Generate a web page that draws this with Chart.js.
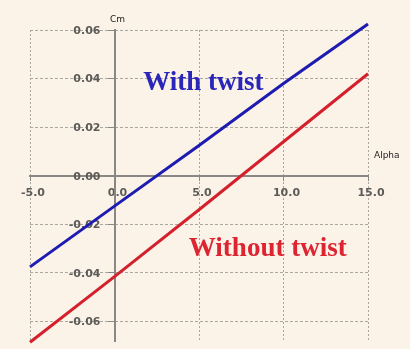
<!DOCTYPE html>
<html>
<head>
<meta charset="utf-8">
<script src="https://cdn.jsdelivr.net/npm/chart.js@4.4.1/dist/chart.umd.min.js"></script>
<style>
  html, body { margin: 0; padding: 0; background: #fbf2e8; }
  #wrap { width: 410px; height: 349px; }
</style>
</head>
<body>
<div id="wrap"><canvas id="c" width="410" height="349"></canvas></div>
<script>
// Pitching moment coefficient vs angle of attack
const alpha = [-5, 0, 5, 10, 15];
const cmWithTwist = [-0.0375, -0.0125, 0.0125, 0.0380, 0.0625];
const cmWithoutTwist = [-0.0685, -0.0415, -0.0140, 0.0140, 0.0420];
const alphaTicks = [-5, 0, 5, 10, 15];
const cmTicks = [-0.06, -0.04, -0.02, 0.00, 0.02, 0.04, 0.06];
const seriesNames = ['With twist', 'Without twist'];
const axisTitles = { x: 'Alpha', y: 'Cm' };

const toPoints = ys => alpha.map((a, i) => ({ x: a, y: ys[i] }));
const tickFont = 'bold 11px "DejaVu Sans"';
const tickColor = '#5c5b58';

// Cm tick labels sit to the left of the vertical axis, under the lines
const cmLabelPlugin = {
  id: 'cmLabels',
  beforeDatasetsDraw(chart) {
    const { ctx, scales: { x, y } } = chart;
    const right = x.getPixelForValue(0) - 14;
    ctx.save();
    ctx.font = tickFont;
    ctx.fillStyle = tickColor;
    ctx.textAlign = 'right';
    ctx.textBaseline = 'middle';
    y.ticks.forEach(t => {
      ctx.fillText(Number(t.value).toFixed(2), right, y.getPixelForValue(t.value) + 1);
    });
    ctx.restore();
  }
};

// Labels written on the plot next to each line, plus the axis names
const textPlugin = {
  id: 'plotText',
  afterDraw(chart) {
    const { ctx, scales: { x, y } } = chart;
    ctx.save();
    ctx.textBaseline = 'alphabetic';
    ctx.textAlign = 'left';
    ctx.font = 'bold 27px "Liberation Serif"';
    ctx.fillStyle = '#2a26b8';
    ctx.fillText(seriesNames[0], x.getPixelForValue(1.7), y.getPixelForValue(0.0354));
    ctx.fillStyle = '#de2431';
    ctx.fillText(seriesNames[1], x.getPixelForValue(4.4), y.getPixelForValue(-0.0330));

    ctx.font = '9px "DejaVu Sans"';
    ctx.fillStyle = '#222';
    ctx.textAlign = 'center';
    ctx.fillText(axisTitles.y, x.getPixelForValue(0) + 3, chart.chartArea.top - 8);
    ctx.textAlign = 'left';
    ctx.fillText(axisTitles.x, chart.chartArea.right + 6, y.getPixelForValue(0) - 18);
    ctx.restore();
  }
};

new Chart(document.getElementById('c'), {
  type: 'line',
  data: {
    datasets: [
      {
        label: seriesNames[0],
        data: toPoints(cmWithTwist),
        borderColor: '#1e1cb0',
        borderWidth: 3,
        pointRadius: 0,
        clip: false
      },
      {
        label: seriesNames[1],
        data: toPoints(cmWithoutTwist),
        borderColor: '#d4202c',
        borderWidth: 3,
        pointRadius: 0,
        clip: false
      }
    ]
  },
  options: {
    responsive: false,
    animation: false,
    events: [],
    layout: { padding: { left: 30, right: 42, top: 30, bottom: 8 } },
    plugins: { legend: { display: false }, tooltip: { enabled: false } },
    scales: {
      x: {
        type: 'linear',
        position: { y: 0 },
        min: -5,
        max: 15,
        afterFit: s => { s.height = 0; },
        afterBuildTicks: s => { s.ticks = alphaTicks.map(v => ({ value: v })); },
        grid: { color: '#aaa7a1', lineWidth: 1, tickLength: 4, tickColor: '#8a8884' },
        border: { display: true, color: '#8a8884', width: 2, dash: [2, 2] },
        ticks: {
          color: tickColor,
          font: { family: 'DejaVu Sans', size: 11, weight: 'bold' },
          padding: 7,
          labelOffset: 3,
          maxRotation: 0,
          callback: v => Number(v).toFixed(1)
        }
      },
      y: {
        type: 'linear',
        position: { x: 0 },
        min: -0.068,
        max: 0.06,
        afterFit: s => { s.width = 0; },
        afterBuildTicks: s => { s.ticks = cmTicks.map(v => ({ value: v })); },
        grid: { color: '#aaa7a1', lineWidth: 1, tickLength: 6, tickColor: '#8a8884' },
        border: { display: true, color: '#8a8884', width: 2, dash: [3, 2] },
        ticks: { display: false }
      }
    }
  },
  plugins: [cmLabelPlugin, textPlugin]
});
</script>
</body>
</html>
